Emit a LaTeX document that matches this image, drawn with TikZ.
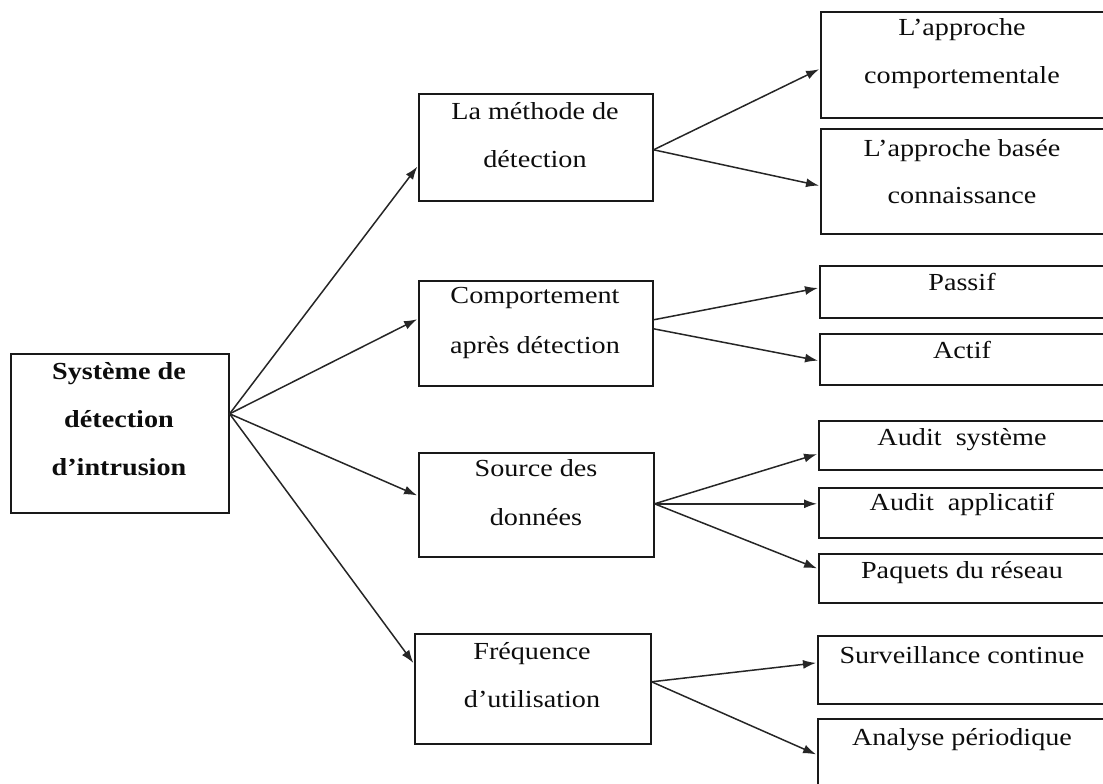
\documentclass[tikz,border=0pt]{standalone}
\usepackage{fontspec}
\setmainfont{Liberation Serif}[FakeStretch=1.15]
\usetikzlibrary{arrows.meta}
\begin{document}
\begin{tikzpicture}[x=1pt,y=-1pt,
  box/.style={draw=black!90, line width=1.6pt, inner sep=0pt, anchor=north west},
  lbl/.style={anchor=base, inner sep=0pt, font=\fontsize{24.5}{28}\selectfont, text=black!95},
  rootlbl/.style={lbl, font=\fontsize{24.5}{28}\selectfont\bfseries},
  arr/.style={draw=black!85, line width=1.5pt, -{Latex[length=13pt,width=9pt]}, shorten >=1pt}
]
\useasboundingbox (0,0) rectangle (1103,784);
\clip (0,0) rectangle (1103,784);

% root box
\node[box, minimum width=218pt, minimum height=159pt] (root) at (10,353) {};
\node[rootlbl] (root1) at (119,379) {Système de};
\node[rootlbl] (root2) at (119,427) {détection};
\node[rootlbl] (root3) at (119,475) {d’intrusion};

% criteria boxes
\node[box, minimum width=234pt, minimum height=107pt] (m1) at (418,93) {};
\node[lbl] (m1a) at (535,119) {La méthode de};
\node[lbl] (m1b) at (535,167) {détection};

\node[box, minimum width=234pt, minimum height=105pt] (m2) at (418,280) {};
\node[lbl] (m2a) at (535,303) {Comportement};
\node[lbl] (m2b) at (535,353) {après détection};

\node[box, minimum width=235pt, minimum height=104pt] (m3) at (418,452) {};
\node[lbl] (m3a) at (536,476) {Source des};
\node[lbl] (m3b) at (536,525) {données};

\node[box, minimum width=236pt, minimum height=110pt] (m4) at (414,633) {};
\node[lbl] (m4a) at (532,659) {Fréquence};
\node[lbl] (m4b) at (532,707) {d’utilisation};

% leaf boxes
\node[box, minimum width=286pt, minimum height=106pt] (r1) at (820,11) {};
\node[lbl] (r1a) at (962,36) {L’approche};
\node[lbl] (r1b) at (962,83) {comportementale};

\node[box, minimum width=286pt, minimum height=105pt] (r2) at (820,128) {};
\node[lbl] (r2a) at (962,156) {L’approche basée};
\node[lbl] (r2b) at (962,203) {connaissance};

\node[box, minimum width=287pt, minimum height=52pt] (r3) at (819,265) {};
\node[lbl] (r3a) at (962,290) {Passif};

\node[box, minimum width=287pt, minimum height=51pt] (r4) at (819,333) {};
\node[lbl] (r4a) at (962,358) {Actif};

\node[box, minimum width=288pt, minimum height=49pt] (r5) at (818,420) {};
\node[lbl] (r5a) at (962,445) {Audit\ \ système};

\node[box, minimum width=288pt, minimum height=50pt] (r6) at (818,487) {};
\node[lbl] (r6a) at (962,510) {Audit\ \ applicatif};

\node[box, minimum width=288pt, minimum height=49pt] (r7) at (818,553) {};
\node[lbl] (r7a) at (962,578) {Paquets du réseau};

\node[box, minimum width=289pt, minimum height=68pt] (r8) at (817,635) {};
\node[lbl] (r8a) at (962,663) {Surveillance continue};

\node[box, minimum width=289pt, minimum height=90pt] (r9) at (817,718) {};
\node[lbl] (r9a) at (962,745) {Analyse périodique};

% root to criteria
\draw[arr] ([yshift=19.5pt]root.east) -- ([yshift=-18.5pt]m1.west);
\draw[arr] ([yshift=19.5pt]root.east) -- ([yshift=14.5pt]m2.west);
\draw[arr] ([yshift=19.5pt]root.east) -- ([yshift=9pt]m3.west);
\draw[arr] ([yshift=19.5pt]root.east) -- ([yshift=25pt]m4.west);

% criteria to leaves
\draw[arr] ([yshift=-2.5pt]m1.east) -- ([yshift=-4pt]r1.west);
\draw[arr] ([yshift=-2.5pt]m1.east) -- ([yshift=-4.5pt]r2.west);

\draw[arr] ([yshift=13.5pt]m2.east) -- ([yshift=4pt]r3.west);
\draw[arr] ([yshift=4.5pt]m2.east) -- ([yshift=-1.5pt]r4.west);

\draw[arr] ([yshift=1pt]m3.east) -- ([yshift=-8.5pt]r5.west);
\draw[arr] ([yshift=1pt]m3.east) -- ([yshift=9pt]r6.west);
\draw[arr] ([yshift=1pt]m3.east) -- ([yshift=9.5pt]r7.west);

\draw[arr] ([yshift=7pt]m4.east) -- ([yshift=7pt]r8.west);
\draw[arr] ([yshift=7pt]m4.east) -- ([yshift=9pt]r9.west);
\end{tikzpicture}
\end{document}
